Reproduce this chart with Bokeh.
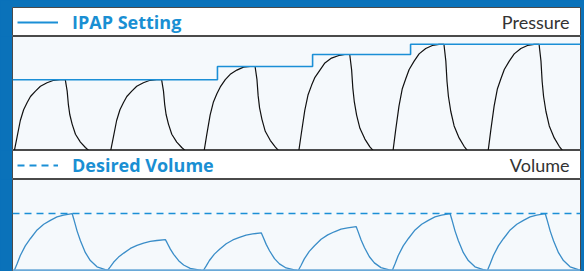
from bokeh.plotting import figure
from bokeh.layouts import column
from bokeh.models import Range1d, Legend, LegendItem, Label, Span, GlobalInlineStyleSheet
from bokeh.embed import file_html
from bokeh.resources import INLINE

# ---------------- data ----------------
# IPAP setting (cmH2O) as steps over time (s)
ipap_time = [0, 8.66, 12.68, 16.82, 24]
ipap_level = [11.8, 14, 16, 17.7, 17.7]

# pressure waveform of each breath (time s, pressure cmH2O)
pressure_t = [
    [0.08, 0.19, 0.33, 0.47, 0.62, 0.76, 0.97, 1.18, 1.46, 1.74, 2.02, 2.23, 2.31, 2.36, 2.42, 2.52, 2.66, 2.87, 3.08, 3.22],
    [4.15, 4.26, 4.40, 4.54, 4.69, 4.83, 5.04, 5.25, 5.53, 5.81, 6.09, 6.30, 6.38, 6.43, 6.49, 6.59, 6.73, 6.94, 7.15, 7.29],
    [8.10, 8.21, 8.35, 8.49, 8.64, 8.78, 8.99, 9.20, 9.48, 9.76, 10.04, 10.25, 10.33, 10.38, 10.44, 10.54, 10.68, 10.89, 11.10, 11.24],
    [12.10, 12.21, 12.35, 12.49, 12.64, 12.78, 12.99, 13.20, 13.48, 13.76, 14.04, 14.25, 14.33, 14.38, 14.44, 14.54, 14.68, 14.89, 15.10, 15.24],
    [16.08, 16.19, 16.33, 16.47, 16.62, 16.76, 16.97, 17.18, 17.46, 17.74, 18.02, 18.23, 18.31, 18.36, 18.42, 18.52, 18.66, 18.87, 19.08, 19.22],
    [20.10, 20.21, 20.35, 20.49, 20.64, 20.78, 20.99, 21.20, 21.48, 21.76, 22.04, 22.25, 22.33, 22.38, 22.44, 22.54, 22.68, 22.89, 23.10, 23.24],
]
pressure_p = [
    [0, 2.2, 5.0, 6.8, 8.0, 9.0, 9.9, 10.7, 11.3, 11.7, 11.8, 11.8, 9.9, 7.7, 6.0, 4.4, 2.7, 1.4, 0.5, 0],
    [0, 2.2, 5.0, 6.8, 8.0, 9.0, 9.9, 10.7, 11.3, 11.7, 11.8, 11.8, 9.9, 7.7, 6.0, 4.4, 2.7, 1.4, 0.5, 0],
    [0, 2.7, 5.9, 8.1, 9.5, 10.6, 11.8, 12.7, 13.4, 13.9, 14.0, 14.0, 11.8, 9.1, 7.1, 5.2, 3.2, 1.7, 0.6, 0],
    [0, 3.0, 6.7, 9.3, 10.9, 12.2, 13.4, 14.6, 15.4, 15.8, 16.0, 16.0, 13.4, 10.4, 8.2, 5.9, 3.7, 1.9, 0.6, 0],
    [0, 3.4, 7.4, 10.3, 12.0, 13.5, 14.9, 16.1, 17.0, 17.5, 17.7, 17.7, 14.9, 11.5, 9.0, 6.5, 4.1, 2.1, 0.7, 0],
    [0, 3.4, 7.4, 10.3, 12.0, 13.5, 14.9, 16.1, 17.0, 17.5, 17.7, 17.7, 14.9, 11.5, 9.0, 6.5, 4.1, 2.1, 0.7, 0],
]

# desired (target) volume, mL
desired_volume = 500

# delivered volume of each breath (time s, volume mL)
volume_t = [
    [0.08, 0.19, 0.33, 0.54, 0.76, 1.04, 1.32, 1.60, 1.88, 2.16, 2.52, 2.59, 2.73, 2.87, 3.08, 3.29, 3.57, 3.92, 4.02],
    [4.02, 4.13, 4.27, 4.48, 4.70, 4.98, 5.26, 5.54, 5.82, 6.10, 6.46, 6.53, 6.67, 6.81, 7.02, 7.23, 7.51, 7.86, 7.96],
    [8.07, 8.18, 8.32, 8.53, 8.75, 9.03, 9.31, 9.59, 9.87, 10.15, 10.51, 10.58, 10.72, 10.86, 11.07, 11.28, 11.56, 11.91, 12.01],
    [12.08, 12.19, 12.33, 12.54, 12.76, 13.04, 13.32, 13.60, 13.88, 14.16, 14.52, 14.59, 14.73, 14.87, 15.08, 15.29, 15.57, 15.92, 16.02],
    [16.05, 16.16, 16.30, 16.51, 16.73, 17.01, 17.29, 17.57, 17.85, 18.13, 18.49, 18.56, 18.70, 18.84, 19.05, 19.26, 19.54, 19.89, 19.99],
    [20.07, 20.18, 20.32, 20.53, 20.75, 21.03, 21.31, 21.59, 21.87, 22.15, 22.51, 22.58, 22.72, 22.86, 23.07, 23.28, 23.56, 23.91, 24.01],
]
volume_v = [
    [0, 55, 130, 215, 280, 355, 405, 440, 470, 485, 500, 450, 345, 260, 155, 85, 30, 5, 0],
    [0, 30, 70, 116, 151, 192, 219, 238, 254, 262, 270, 243, 186, 140, 84, 46, 16, 3, 0],
    [0, 36, 86, 142, 185, 234, 267, 290, 310, 320, 330, 297, 228, 172, 102, 56, 20, 3, 0],
    [0, 42, 100, 166, 216, 273, 312, 339, 362, 373, 385, 347, 266, 200, 119, 65, 23, 4, 0],
    [0, 55, 130, 215, 280, 355, 405, 440, 470, 485, 500, 450, 345, 260, 155, 85, 30, 5, 0],
    [0, 55, 130, 215, 280, 355, 405, 440, 470, 485, 500, 450, 345, 260, 155, 85, 30, 5, 0],
]

ipap_label = "IPAP Setting"
pressure_label = "Pressure"
desired_label = "Desired Volume"
volume_label = "Volume"

# ---------------- style ----------------
FRAME_BLUE = "#0a72ba"
LINE_BLUE = "#1b8fd6"
CURVE_BLUE = "#3a8dc8"
PLOT_BG = "#f5f9fc"
OUTLINE = "#4a4a4a"
TEXT_BLUE = "#1a8fd3"
TEXT_DARK = "#333333"
NAN = float("nan")


def make_fig(height, top=0, bg=PLOT_BG, x_range=None, y_range=None):
    p = figure(width=584, height=height, x_range=x_range, y_range=y_range,
               toolbar_location=None, output_backend="svg",
               x_axis_type=None, y_axis_type=None,
               min_border=0, min_border_left=12, min_border_right=4,
               min_border_top=top, min_border_bottom=0,
               border_fill_color=FRAME_BLUE, background_fill_color=bg,
               outline_line_color=OUTLINE, outline_line_width=1)
    return p


def header(height, top, label, right_text, dash):
    h = make_fig(height, top=top, bg="white",
                 x_range=Range1d(0, 1), y_range=Range1d(0, 1))
    # legend-only renderer (no visible data)
    r = h.line(x=[NAN], y=[NAN], line_color=LINE_BLUE, line_width=2, line_dash=dash)
    leg = Legend(items=[LegendItem(label=label, renderers=[r])],
                 location="center_left", margin=5, padding=6,
                 glyph_width=41, glyph_height=20, label_standoff=14,
                 label_text_font="Open Sans", label_text_font_style="bold",
                 label_text_font_size="18px", label_text_color=TEXT_BLUE,
                 background_fill_alpha=0, border_line_color=None)
    h.add_layout(leg)
    h.add_layout(Label(x=1, y=0.5, x_offset=-11, text=right_text,
                       text_align="right", text_baseline="middle",
                       text_font="Lato", text_font_size="18px",
                       text_color=TEXT_DARK))
    return h


h1 = header(36, 7, ipap_label, pressure_label, "solid")

p1 = make_fig(114, x_range=Range1d(0, 24), y_range=Range1d(0, 19))
p1.multi_line(xs=pressure_t, ys=pressure_p, line_color="#111111", line_width=1.2)
p1.step(x=ipap_time, y=ipap_level, mode="after", line_color=LINE_BLUE, line_width=1.6)

h2 = header(29, 0, desired_label, volume_label, "7 5")

p2 = make_fig(93, x_range=Range1d(0, 24), y_range=Range1d(-20, 800))
p2.add_layout(Span(location=0, dimension="width", line_color="#6aa9d8", line_width=2))
p2.add_layout(Span(location=desired_volume, dimension="width", line_color=LINE_BLUE,
                   line_width=1.5, line_dash="7 5"))
p2.multi_line(xs=volume_t, ys=volume_v, line_color=CURVE_BLUE, line_width=1.3)

layout = column(h1, p1, h2, p2, spacing=0)
layout.stylesheets = [GlobalInlineStyleSheet(
    css="html, body { margin: 0; padding: 0; background: %s; overflow: hidden; }" % FRAME_BLUE)]

open("out.html", "w").write(file_html(layout, INLINE))
